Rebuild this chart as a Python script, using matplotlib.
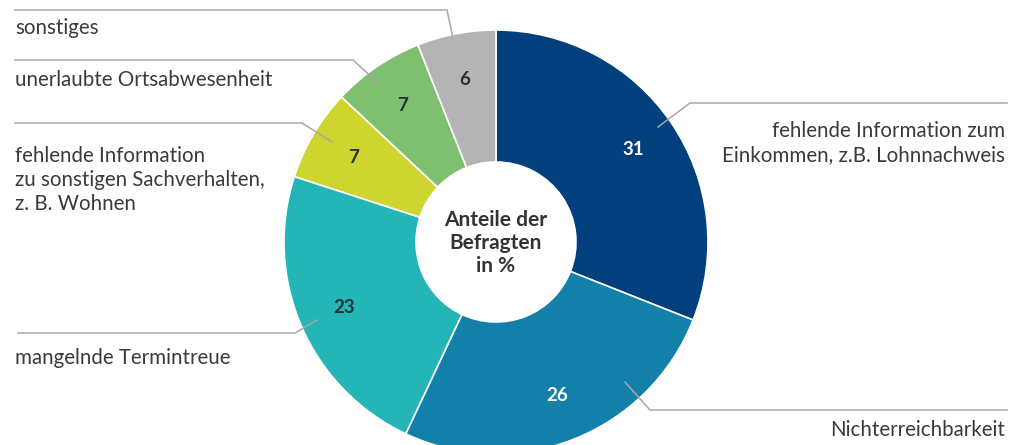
import matplotlib.pyplot as plt
import numpy as np

# Anteile der Befragten in %, im Uhrzeigersinn ab 12 Uhr
labels = ['fehlende Information zum\nEinkommen, z.B. Lohnnachweis',
          'Nichterreichbarkeit',
          'mangelnde Termintreue',
          'fehlende Information\nzu sonstigen Sachverhalten,\nz. B. Wohnen',
          'unerlaubte Ortsabwesenheit',
          'sonstiges']
values = [31, 26, 23, 7, 7, 6]
colors = ['#013f7d', '#1380a9', '#24b5b7', '#cfd52f', '#7fbf70', '#b4b4b4']
value_colors = ['white', 'white', '#263238', '#263238', '#263238', '#263238']

plt.rcParams['font.family'] = ['Lato', 'DejaVu Sans']

fig = plt.figure(figsize=(10.1, 4.45), dpi=100)
ax = fig.add_axes([0, 0, 1, 1])

cx, cy, R, r_in = 496, 242, 212, 80

wedges, _ = ax.pie(values, colors=colors, startangle=-90, counterclock=True,
                   center=(cx, cy), radius=R, frame=True,
                   wedgeprops=dict(width=R - r_in, edgecolor='white', linewidth=1.2))
ax.set_xlim(0, 1010)
ax.set_ylim(445, 0)
ax.set_aspect('equal')
ax.axis('off')

# Werte in den Segmenten
for w, v, c in zip(wedges, values, value_colors):
    th = np.deg2rad((w.theta1 + w.theta2) / 2)
    rr = 0.78 * R
    ax.text(cx + rr * np.cos(th), cy + rr * np.sin(th), str(v), color=c,
            fontsize=13.5, fontweight='bold', ha='center', va='center')

ax.text(cx, cy + 1, 'Anteile der\nBefragten\nin %', ha='center', va='center',
        fontsize=15, fontweight='bold', color='#333333', linespacing=1.2)

# Beschriftungen mit Hinweislinien (Layout in Pixeln)
line_c = '#a8a8a8'
leaders = [
    [(658, 127), (690, 103), (1007, 103)],
    [(625, 382), (650, 410), (1007, 410)],
    [(317, 320), (295, 333), (18, 333)],
    [(332, 142), (302, 123), (15, 123)],
    [(377, 82), (353, 60), (15, 60)],
    [(453, 38), (447, 10), (15, 10)],
]
text_pos = [
    (1005, 143, 'right'),
    (1005, 430, 'right'),
    (15, 358, 'left'),
    (15, 180, 'left'),
    (15, 80, 'left'),
    (15, 28, 'left'),
]
for lab, pts, (tx, ty, ha) in zip(labels, leaders, text_pos):
    xs, ys = zip(*pts)
    ax.plot(xs, ys, color=line_c, linewidth=1.1)
    ax.text(tx, ty, lab, ha=ha, va='center', fontsize=14.8, color='#3a3a3a',
            linespacing=1.22, multialignment=ha)

fig.savefig('out.png', dpi=100)
